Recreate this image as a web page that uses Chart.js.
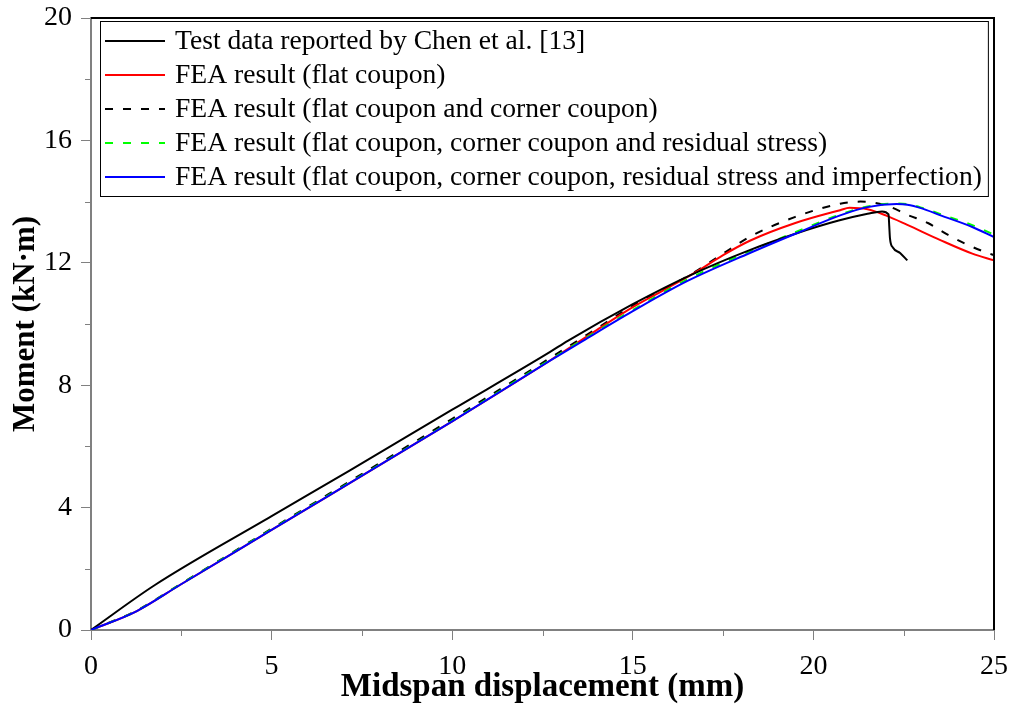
<!DOCTYPE html>
<html lang="en">
<head>
<meta charset="UTF-8">
<title>Moment vs midspan displacement</title>
<script src="https://cdn.jsdelivr.net/npm/chart.js"></script>
<style>
  body { margin: 0; background: #fff; }
  #wrap { width: 1013px; height: 711px; }
</style>
</head>
<body>
<div id="wrap"><canvas id="momentChart" width="1013" height="711"></canvas></div>
<script>
// curves: x = midspan displacement (mm), y = moment (kN·m)
const testX = [0, 1.77, 5, 7.17, 10, 12.7, 13.2, 15, 16.6, 18.2, 19.5, 20.7, 21.5, 21.9, 22.08, 22.1, 22.12, 22.2, 22.4, 22.6];
const testY = [0, 1.47, 3.72, 5.22, 7.2, 9.08, 9.45, 10.65, 11.6, 12.4, 12.95, 13.38, 13.6, 13.68, 13.58, 13.2, 12.8, 12.5, 12.32, 12.08];

const flatX = [0, 1.27, 2.46, 5, 10, 12.7, 14, 15, 16, 16.86, 17.5, 18.24, 19.5, 20.74, 21.0, 21.5, 22.0, 22.6, 23.5, 24.4, 25];
const flatY = [0, 0.62, 1.47, 3.27, 6.82, 8.8, 9.8, 10.55, 11.2, 11.78, 12.25, 12.72, 13.3, 13.72, 13.8, 13.75, 13.55, 13.24, 12.75, 12.3, 12.08];

const cornerX = [0, 1.27, 2.46, 5, 10, 12.7, 14, 15, 16.6, 17.5, 18.24, 19.5, 20.74, 21.3, 22.0, 22.62, 23.17, 23.73, 24.28, 24.83, 25];
const cornerY = [0, 0.64, 1.49, 3.31, 6.9, 8.88, 9.85, 10.6, 11.62, 12.3, 12.85, 13.5, 13.93, 14.0, 13.88, 13.56, 13.3, 12.91, 12.58, 12.32, 12.25];

const residualX = [0, 1.27, 2.46, 5, 10, 12.71, 15, 16.5, 18.24, 19.5, 20.74, 21.5, 22.3, 22.6, 23.0, 23.5, 24.4, 25];
const residualY = [0, 0.63, 1.48, 3.29, 6.84, 8.83, 10.46, 11.45, 12.38, 13.0, 13.58, 13.84, 13.94, 13.92, 13.8, 13.6, 13.23, 12.92];

const imperfX = [0, 1.27, 2.46, 5, 10, 12.71, 13.62, 15, 16.5, 18.24, 19.5, 20.74, 21.5, 22.3, 22.6, 23.0, 23.5, 24.4, 25];
const imperfY = [0, 0.62, 1.47, 3.27, 6.82, 8.8, 9.45, 10.42, 11.4, 12.32, 12.95, 13.55, 13.82, 13.92, 13.9, 13.78, 13.56, 13.17, 12.84];

const seriesLabels = [
    "Test data reported by Chen et al. [13]",
    "FEA result (flat coupon)",
    "FEA result (flat coupon and corner coupon)",
    "FEA result (flat coupon, corner coupon and residual stress)",
    "FEA result (flat coupon, corner coupon, residual stress and imperfection)"
];

const xTicks = [0, 5, 10, 15, 20, 25];
const yTicks = [0, 4, 8, 12, 16, 20];
const xMinor = [2.5, 7.5, 12.5, 17.5, 22.5];
const yMinor = [2, 6, 10, 14, 18];

const serif = "'Liberation Serif', 'Times New Roman', serif";

function pts(xs, ys) {
    return xs.map((x, i) => ({ x: x, y: ys[i] }));
}

function line(label, xs, ys, color, dash, order) {
    return {
        label: label,
        data: pts(xs, ys),
        borderColor: color,
        backgroundColor: color,
        borderWidth: 2,
        borderDash: dash,
        pointRadius: 0,
        cubicInterpolationMode: "monotone",
        fill: false,
        order: order
    };
}

// the layout padding alone decides where the plot area sits
function noLabelPadding(scale) {
    scale.paddingTop = 0;
    scale.paddingBottom = 0;
    scale.paddingLeft = 0;
    scale.paddingRight = 0;
}

// outer frame, minor ticks and the boxed legend
const decorations = {
    id: 'decorations',
    afterDraw(chart) {
        const ctx = chart.ctx;
        const ca = chart.chartArea;
        const xs = chart.scales.x, ys = chart.scales.y;
        ctx.save();

        // top / right frame
        ctx.strokeStyle = '#000';
        ctx.lineWidth = 2;
        ctx.beginPath();
        ctx.moveTo(ca.left, ca.top);
        ctx.lineTo(ca.right, ca.top);
        ctx.lineTo(ca.right, ca.bottom);
        ctx.stroke();

        // minor ticks
        ctx.strokeStyle = '#808080';
        ctx.lineWidth = 1;
        ctx.beginPath();
        xMinor.forEach(v => {
            const px = Math.round(xs.getPixelForValue(v)) + 0.5;
            ctx.moveTo(px, ca.bottom);
            ctx.lineTo(px, ca.bottom + 6);
        });
        yMinor.forEach(v => {
            const py = Math.round(ys.getPixelForValue(v)) + 0.5;
            ctx.moveTo(ca.left, py);
            ctx.lineTo(ca.left - 6, py);
        });
        ctx.stroke();

        // legend
        ctx.font = "27.6px " + serif;
        const widths = chart.data.datasets.map(d => ctx.measureText(d.label).width);
        const boxL = ca.left + 9, boxT = ca.top + 3;
        const textX = boxL + 75;
        const boxW = 75 + Math.max(...widths) + 6;
        const rowH = 34;
        const boxH = 175;
        ctx.fillStyle = '#fff';
        ctx.fillRect(boxL, boxT, boxW, boxH);
        ctx.strokeStyle = '#000';
        ctx.lineWidth = 1;
        ctx.strokeRect(boxL + 0.5, boxT + 0.5, boxW, boxH);

        chart.data.datasets.forEach((d, i) => {
            const y = boxT + 20 + i * rowH;
            ctx.strokeStyle = d.borderColor;
            ctx.lineWidth = 2;
            ctx.setLineDash(d.borderDash || []);
            ctx.beginPath();
            ctx.moveTo(boxL + 5, y);
            ctx.lineTo(boxL + 65, y);
            ctx.stroke();
            ctx.setLineDash([]);
            ctx.fillStyle = '#000';
            ctx.textBaseline = 'middle';
            ctx.textAlign = 'left';
            ctx.fillText(d.label, textX, y + 1);
        });
        ctx.restore();
    }
};

const ctx = document.getElementById("momentChart").getContext("2d");
new Chart(ctx, {
    type: "line",
    data: {
        datasets: [
            line(seriesLabels[0], testX, testY, "#000000", [], 1),
            line(seriesLabels[1], flatX, flatY, "#ff0000", [], 3),
            line(seriesLabels[2], cornerX, cornerY, "#000000", [8, 10], 4),
            line(seriesLabels[3], residualX, residualY, "#00ff00", [8, 10], 2),
            line(seriesLabels[4], imperfX, imperfY, "#0000ff", [], 0)
        ]
    },
    options: {
        responsive: false,
        animation: false,
        devicePixelRatio: 1,
        layout: { padding: { top: 18, right: 19, left: 0, bottom: 0 } },
        plugins: {
            legend: { display: false },
            tooltip: { enabled: false }
        },
        scales: {
            x: {
                type: "linear",
                min: 0,
                max: 25,
                afterBuildTicks: scale => { scale.ticks = xTicks.map(v => ({ value: v })); },
                afterFit: scale => { scale.height = 81; noLabelPadding(scale); },
                grid: { drawOnChartArea: false, tickLength: 10, color: "#808080", lineWidth: 1 },
                border: { color: "#808080", width: 2 },
                ticks: { color: "#000", padding: 10, maxRotation: 0, font: { family: serif, size: 28 } },
                title: {
                    display: true,
                    text: "Midspan displacement (mm)",
                    color: "#000",
                    padding: { top: 0, bottom: 4 },
                    font: { family: serif, size: 33, weight: "bold" }
                }
            },
            y: {
                type: "linear",
                min: 0,
                max: 20,
                afterBuildTicks: scale => { scale.ticks = yTicks.map(v => ({ value: v })); },
                afterFit: scale => { scale.width = 91; noLabelPadding(scale); },
                grid: { drawOnChartArea: false, tickLength: 10, color: "#808080", lineWidth: 1 },
                border: { color: "#808080", width: 2 },
                ticks: { color: "#000", padding: 9, font: { family: serif, size: 28 } },
                title: {
                    display: true,
                    text: "Moment (kN·m)",
                    color: "#000",
                    padding: { top: 7, bottom: 0 },
                    font: { family: serif, size: 31, weight: "bold" }
                }
            }
        }
    },
    plugins: [decorations]
});
</script>
</body>
</html>
